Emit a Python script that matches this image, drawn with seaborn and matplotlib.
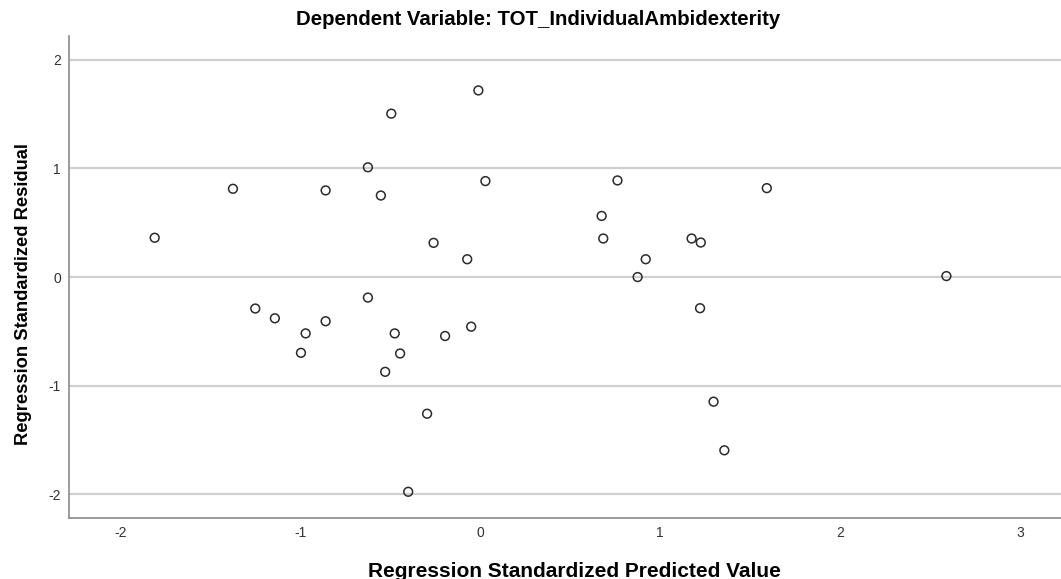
import numpy as np
import pandas as pd
import matplotlib
matplotlib.use('Agg')
import matplotlib.pyplot as plt
import seaborn as sns


TITLE = 'Dependent Variable: TOT_IndividualAmbidexterity'
XLABEL = 'Regression Standardized Predicted Value'
YLABEL = 'Regression Standardized Residual'

# standardized predicted values (x) and standardized residuals (y)
pred = [-1.808, -1.373, -0.858, -0.623, -0.551, -0.493, -0.009, 0.030, -0.258, -0.071, -0.623,
        0.764, 1.594, 0.676, 0.685, 1.176, 1.227, 0.921, 0.876, 2.592,
        -1.249, -1.140, -0.858, -0.969, -0.995, -0.474, -0.444, -0.527, -0.194, -0.049, -0.294, -0.399,
        1.223, 1.298, 1.358]
resid = [0.362, 0.813, 0.798, 1.011, 0.751, 1.505, 1.719, 0.884, 0.315, 0.164, -0.189,
         0.890, 0.819, 0.563, 0.355, 0.355, 0.318, 0.164, 0.000, 0.009,
         -0.290, -0.380, -0.407, -0.519, -0.698, -0.519, -0.704, -0.873, -0.543, -0.457, -1.259, -1.978,
         -0.287, -1.148, -1.596]
xticks = [-2, -1, 0, 1, 2, 3]
yticks = [-2, -1, 0, 1, 2]


def plot_scatter(out_file):
	df = pd.DataFrame({'pred': pred, 'resid': resid})

	sns.set_style('white')
	plt.rcParams['font.family'] = ['Liberation Sans', 'DejaVu Sans']
	plt.rcParams['axes.unicode_minus'] = False

	fig = plt.figure(figsize = (10.61, 5.79), dpi = 100)
	ax = fig.add_axes([0.0654, 0.106, 0.9346, 0.831])

	for y in yticks:
		ax.axhline(y, color = '#cfcfcf', linewidth = 1.6, zorder = 0)

	sns.scatterplot(data = df, x = 'pred', y = 'resid', ax = ax, s = 40,
		facecolor = 'none', edgecolor = '#2b2b2b', linewidth = 1.1, zorder = 3)

	ax.set_xlim(-2.282, 3.229)
	ax.set_ylim(-2.216, 2.216)
	ax.set_xticks(xticks)
	ax.set_yticks(yticks)
	ax.tick_params(length = 0, labelsize = 10, colors = '#333333')
	ax.tick_params(axis = 'x', pad = 6)
	ax.tick_params(axis = 'y', pad = 6)
	for s in ['top', 'right']:
		ax.spines[s].set_visible(False)
	for s in ['left', 'bottom']:
		ax.spines[s].set_color('#8a8a8a')
		ax.spines[s].set_linewidth(1.2)

	ax.set_xlabel(XLABEL, fontsize = 15, fontweight = 'bold', va = 'center', color = 'black')
	ax.xaxis.set_label_coords(0.509, -0.112)
	ax.set_ylabel(YLABEL, fontsize = 13.2, fontweight = 'bold', va = 'center', color = 'black')
	ax.yaxis.set_label_coords(-0.0465, 0.465)
	fig.text(0.5075, 0.967, TITLE, fontsize = 14.7, fontweight = 'bold', ha = 'center', va = 'center',
		color = 'black')

	fig.savefig(out_file, dpi = 100)
	plt.close()


if __name__ == '__main__':
	plot_scatter('out.png')
